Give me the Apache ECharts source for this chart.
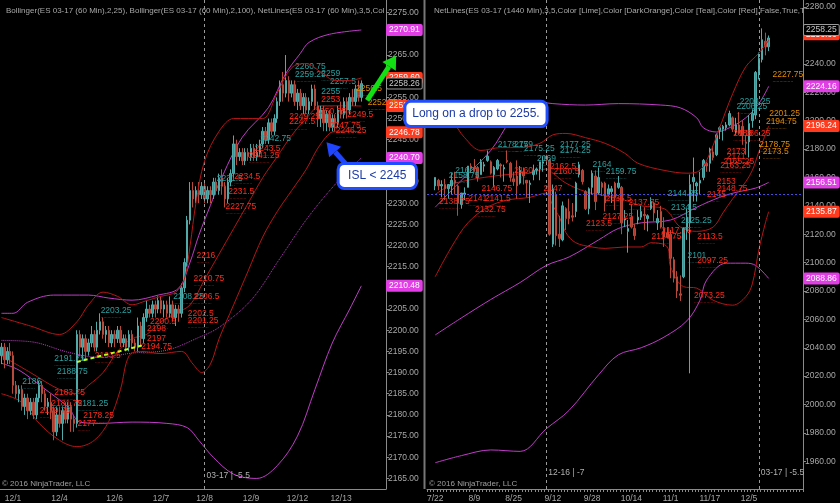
<!DOCTYPE html>
<html><head><meta charset="utf-8">
<script src="https://cdn.jsdelivr.net/npm/echarts@6/dist/echarts.min.js"></script>
<style>html,body{margin:0;padding:0;background:#000}#c{width:840px;height:503px}</style>
</head><body><div id="c"></div>
<script>
// ---------------- LEFT PANEL (60 min) ----------------
const leftTickLabels = [[4,'12/1'],[20,'12/4'],[39,'12/6'],[55,'12/7'],[70,'12/8'],[86,'12/9'],[102,'12/12'],[117,'12/13']];
// [open, close, low, high]
const leftOHLC = [
[2194,2196,2192,2197],[2196,2193,2191,2197],[2193,2195,2192,2196],[2195,2194,2192,2197],[2194,2187,2185,2195],
[2187,2185,2184,2188],[2185,2186,2183,2187],[2186,2182,2181,2187],[2182,2184,2180,2185],[2184,2181,2179,2185],
[2181,2183,2180,2184],[2183,2180,2179,2184],[2180,2184,2179,2185],[2184,2187,2183,2188],[2187,2185,2183,2188],
[2185,2182,2181,2186],[2182,2183,2180,2184],[2183,2181,2179,2185],[2181,2176,2174,2182],[2176,2180,2175,2182],
[2180,2178,2177,2182],[2178,2181,2174,2182],[2181,2179,2178,2183],[2179,2182,2178,2183],[2182,2179,2176,2183],
[2179,2178,2176,2180],[2178,2199,2177,2200],[2199,2196,2194,2200],[2196,2198,2193,2199],[2198,2195,2193,2199],
[2195,2197,2194,2198],[2197,2199,2196,2201],[2199,2196,2195,2200],[2196,2200,2195,2202],[2200,2202,2199,2204],
[2202,2199,2198,2203],[2199,2200,2197,2201],[2200,2197,2196,2201],[2197,2199,2196,2200],[2199,2198,2196,2200],
[2198,2200,2197,2201],[2200,2197,2196,2201],[2197,2198,2196,2199],[2198,2196,2195,2199],[2196,2199,2195,2200],
[2199,2197,2196,2200],[2197,2196,2195,2198],[2196,2201,2195,2203],[2201,2198,2196,2202],[2198,2203,2197,2204],
[2203,2205,2202,2207],[2205,2204,2203,2206],[2204,2206,2203,2207],[2206,2205,2203,2207],[2205,2207,2204,2208],
[2207,2205,2204,2208],[2205,2206,2203,2207],[2206,2204,2203,2207],[2204,2206,2203,2208],[2206,2203,2202,2207],
[2203,2205,2201,2206],[2205,2204,2202,2206],[2204,2210,2203,2211],[2210,2216,2209,2217],[2216,2226,2215,2227],
[2226,2233,2225,2235],[2233,2231,2229,2235],[2231,2233,2230,2234],[2233,2232,2230,2235],[2232,2234,2231,2235],
[2234,2231,2230,2235],[2231,2233,2230,2234],[2233,2232,2230,2234],[2232,2235,2231,2236],[2235,2233,2232,2236],
[2233,2236,2232,2237],[2236,2234,2232,2238],[2234,2231,2229,2235],[2231,2235,2230,2236],[2235,2237,2234,2238],
[2237,2244,2236,2246],[2244,2241,2239,2245],[2241,2242,2240,2243],[2242,2240,2239,2243],[2240,2242,2239,2243],
[2242,2241,2240,2243],[2241,2243,2240,2244],[2243,2241,2240,2244],[2241,2242,2240,2244],[2242,2244,2241,2245],
[2244,2247,2243,2248],[2247,2245,2244,2248],[2245,2249,2244,2250],[2249,2247,2246,2250],[2247,2250,2246,2251],
[2250,2254,2249,2255],[2254,2258,2253,2259],[2258,2256,2254,2261],[2256,2259,2255,2265],[2259,2256,2254,2260],
[2256,2258,2255,2259],[2258,2254,2253,2259],[2254,2256,2252,2257],[2256,2253,2252,2257],[2253,2255,2251,2256],
[2255,2252,2251,2256],[2252,2254,2251,2255],[2254,2257,2253,2258],[2257,2253,2252,2258],[2253,2250,2248,2254],
[2250,2252,2248,2253],[2252,2249,2247,2253],[2249,2251,2247,2252],[2251,2248,2247,2252],[2248,2250,2247,2251],
[2250,2249,2247,2251],[2249,2252,2248,2253],[2252,2251,2250,2254],[2251,2254,2250,2255],[2254,2252,2250,2255],
[2252,2255,2251,2256],[2255,2254,2253,2257],[2254,2257,2253,2258],[2257,2255,2254,2259],[2255,2258.25,2254,2259]
];
const leftBB25Upper = [[0,2203],[10,2201],[20,2199],[26,2202],[30,2206],[35,2209],[40,2208],[45,2206],[50,2207],[55,2208],[60,2209],[63,2212],[65,2220],[67,2230],[70,2240],[75,2247],[80,2250],[85,2250],[90,2250],[95,2256],[100,2262],[105,2263],[110,2261],[115,2259],[120,2259],[124,2259.6]];
const leftBB25Mid = [[0,2194],[10,2190],[20,2186],[26,2185],[30,2187],[35,2190],[40,2195],[45,2198],[50,2199],[55,2202],[60,2204],[65,2206],[70,2212],[75,2218],[80,2224],[85,2230],[90,2236],[95,2241],[100,2246],[105,2250],[110,2253],[115,2253],[120,2253],[124,2252.95]];
const leftBB25Lower = [[0,2185],[7,2183],[13,2178],[20,2174],[26,2172.5],[32,2174],[37,2178.5],[41,2186],[44,2194],[48,2195],[55,2194.5],[62,2195],[66,2192],[69,2190],[72,2192],[75,2198],[80,2206],[85,2214],[90,2222],[95,2228],[100,2233],[105,2238],[110,2244],[115,2247],[120,2247],[124,2246.78]];
const leftBB100Upper = [[0,2204],[4,2204],[9,2206.6],[18,2208.3],[30,2208.3],[37,2207.6],[45,2207.1],[54,2208.3],[61,2209.9],[65,2216.1],[68,2222.4],[72,2229.5],[75,2234.7],[83,2245.6],[92,2252.6],[98,2260.7],[103,2265.4],[106,2268],[113,2269.9],[124,2270.91]];
const leftBB100Mid = [[0,2197.6],[11,2197.2],[23,2194.8],[34,2193.6],[45,2194.6],[57,2195.3],[68,2198.3],[75,2200.7],[86,2207.1],[96,2217],[106,2227],[117,2236],[124,2240.7]];
const leftBB100Lower = [[0,2192.2],[6,2190.6],[14,2186.6],[23,2181.8],[27,2178.3],[34,2178],[45,2178.3],[57,2178],[64,2177],[68,2174],[73,2170],[80,2166],[88,2165],[95,2168],[102,2175],[108,2186],[114,2197],[120,2205],[124,2210.48]];
const leftTrendLine = [[26,2192.5],[49,2196.5]];
const leftLabelsTeal = [[34,2204.3,'2203.25'],[18,2192.9,'2191.75'],[19,2189.8,'2188.75'],[7,2187.5,'2186'],[26,2182.3,'2181.25'],[59,2207.5,'2208.25'],[74,2235.5,'2231.5'],[89,2245,'2242.75'],[101,2262,'2260.75'],[101,2260,'2259.25'],[110,2260.2,'2259'],[113,2258.3,'2257.5'],[110,2256,'2255']];
const leftLabelsRed = [[18,2184.9,'2183.75'],[17,2182.3,'2181.75'],[13,2180.6,'2179.75'],[28,2179.5,'2178.25'],[26,2177.6,'2177'],[32,2193.6,'2193.5'],[48,2195.7,'2194.75'],[50,2197.6,'2197'],[50,2200,'2198'],[51,2201.7,'2200.5'],[66,2207.5,'2206.5'],[64,2203.5,'2202.5'],[64,2201.9,'2201.25'],[66,2211.8,'2210.75'],[67,2217.2,'2216'],[80,2235.9,'2234.5'],[78,2232.3,'2231.5'],[77,2228.8,'2227.75'],[87,2242.5,'2243.5'],[85,2240.8,'2241.25'],[99,2248.8,'2247.5'],[99,2250.2,'2249.25'],[110,2254,'2253'],[108,2251.2,'2250.75'],[119,2250.5,'2249.5'],[113,2247.9,'2247.75'],[115,2246.7,'2246.25']];
const leftLabelsOrange = [[122,2256.6,'2256.5'],[126,2253.3,'2252.75']];
const leftTags = [[2270.91,'mag'],[2259.60,'red'],[2252.95,'red'],[2246.78,'red'],[2240.70,'mag'],[2210.48,'mag'],[2258.26,'last']];
const leftRollover = 70;

// ---------------- RIGHT PANEL (1440 min) ----------------
const rightDates = ['7/22','7/25','7/26','7/27','7/28','7/29','8/1','8/2','8/3','8/4','8/5','8/8','8/9','8/10','8/11','8/12','8/15','8/16','8/17','8/18','8/19','8/22','8/23','8/24','8/25','8/26','8/29','8/30','8/31','9/1','9/2','9/5','9/6','9/7','9/8','9/9','9/12','9/13','9/14','9/15','9/16','9/19','9/20','9/21','9/22','9/23','9/26','9/27','9/28','9/29','9/30','10/3','10/4','10/5','10/6','10/7','10/10','10/11','10/12','10/13','10/14','10/17','10/18','10/19','10/20','10/21','10/24','10/25','10/26','10/27','10/28','10/31','11/1','11/2','11/3','11/4','11/7','11/8','11/9','11/10','11/11','11/14','11/15','11/16','11/17','11/18','11/21','11/22','11/23','11/24','11/25','11/28','11/29','11/30','12/1','12/2','12/5','12/6','12/7','12/8','12/9','12/12','12/13'];
const rightTickDates = ['7/22','8/9','8/25','9/12','9/28','10/14','11/1','11/17','12/5'];
const rightOHLC = [
[2154,2160,2151,2160],[2158,2154,2151,2159],[2154,2155,2146,2158],[2155,2152,2144,2159],[2152,2155,2145,2155],
[2154,2158,2148,2163],[2158,2156,2148,2164],[2154,2142,2133,2155],[2141,2149,2138,2149],[2148,2149,2144,2153],
[2153,2168,2153,2168],[2168,2166,2163,2170],[2167,2166,2164,2173],[2167,2160,2157,2168],[2162,2171,2162,2173],
[2168,2169,2164,2171],[2172,2175,2171,2179],[2171,2163,2162,2172],[2162,2167,2153,2168],[2166,2172,2165,2173],
[2169,2168,2160,2170],[2166,2167,2157,2169],[2172,2171,2170,2179],[2170,2160,2157,2171],[2159,2157,2154,2164],
[2161,2154,2145,2172],[2156,2165,2155,2168],[2164,2161,2155,2167],[2158,2156,2146,2158],[2155,2156,2142,2158],
[2162,2165,2158,2169],[2165,2166,2162,2167],[2166,2171,2158,2171],[2170,2171,2164,2175],[2175,2173,2169,2176],
[2172,2120,2119,2173],[2113,2152,2111,2155],[2148,2119,2112,2150],[2120,2117,2111,2133],[2116,2140,2115,2143],
[2138,2131,2123,2139],[2136,2131,2127,2145],[2133,2132,2129,2142],[2136,2156,2132,2157],[2162,2169,2160,2171],
[2165,2157,2155,2166],[2150,2138,2137,2151],[2138,2152,2134,2153],[2153,2163,2148,2165],[2161,2143,2137,2165],
[2149,2160,2148,2167],[2156,2153,2147,2157],[2156,2142,2136,2157],[2148,2152,2147,2155],[2150,2152,2142,2154],
[2156,2146,2137,2157],[2153,2156,2152,2161],[2153,2128,2120,2154],[2130,2131,2125,2137],[2122,2124,2107,2130],
[2132,2125,2124,2141],[2124,2119,2116,2127],[2130,2132,2127,2137],[2132,2136,2130,2140],[2134,2133,2123,2139],
[2131,2133,2122,2134],[2138,2143,2137,2146],[2142,2135,2129,2143],[2128,2131,2123,2137],[2136,2125,2124,2140],
[2124,2118,2111,2132],[2121,2118,2117,2125],[2120,2103,2089,2123],[2102,2089,2086,2104],[2090,2080,2075,2094],
[2078,2077,2073,2091],[2090,2124,2089,2125],[2122,2132,2116,2138],[2128,2155,2022,2162],[2157,2160,2143,2174],
[2154,2156,2143,2157],[2156,2158,2148,2164],[2160,2172,2158,2173],[2170,2168,2164,2171],[2170,2180,2164,2181],
[2178,2174,2172,2182],[2176,2190,2175,2191],[2193,2195,2187,2196],[2194,2196,2186,2197],[2195,2197,2193,2199],
[2197,2205,2196,2207],[2202,2194,2192,2203],[2192,2197,2190,2202],[2197,2191,2190,2206],[2196,2190,2183,2200],
[2185,2184,2176,2190],[2185,2198,2174,2204],[2200,2205,2195,2208],[2204,2234,2201,2235],[2233,2244,2229,2248],
[2243,2257,2241,2265],[2256,2252,2246,2262],[2252,2258.25,2249,2260]
];
const rightRedUpper = [[0,2207],[5,2200],[9,2188],[14,2179],[20,2181],[26,2181],[32,2184],[36,2190],[40,2191],[46,2188],[52,2184],[58,2177],[62,2170],[70,2165],[77,2163],[81,2165],[84,2177],[87,2195],[91,2219],[95,2238],[99,2247.5],[102,2256.6]];
const rightRedMid = [[0,2148],[5,2155],[10,2158],[15,2160],[22,2162],[29,2163],[34,2166],[36,2163],[40,2156],[46,2150],[52,2147],[58,2144],[63,2140],[70,2138],[75,2125],[80,2122],[85,2125],[88,2135],[91,2145],[95,2157],[97,2165],[99,2178],[102,2196.24]];
const rightRedLower = [[0,2090],[5,2111],[10,2128],[16,2139],[22,2144],[29,2146],[34,2149],[36,2140],[38,2132],[40,2121],[43,2114],[48,2111],[52,2110],[58,2111],[63,2111],[66,2114],[71,2111],[72,2097],[76,2083],[80,2082],[85,2073.5],[91,2070],[95,2076],[97,2085],[99,2109],[101,2128],[102,2135.87]];
const rightMagUpper = [[0,2139],[8,2158],[17,2179],[23,2200],[29,2214],[36,2212],[46,2211],[56,2212],[69,2211],[75,2209],[80,2202],[82,2195],[86,2192],[90,2195],[95,2202],[99,2212],[102,2224.16]];
const rightMagMid = [[0,2049],[8,2061],[17,2074],[26,2086],[34,2098],[41,2104],[50,2116],[56,2124],[63,2128],[72,2130],[80,2139],[87,2146],[92,2149.5],[98,2152.5],[102,2156.51]];
const rightMagLower = [[0,1959],[8,1964],[17,1968],[26,1967],[34,1983],[41,1996],[50,2021],[56,2035],[63,2040],[70,2047.5],[77,2059],[81,2073.5],[83,2087.6],[89,2099.6],[95,2099.6],[98,2098],[102,2088.86]];
const rightLevel = 2148;
const rightLabelsTeal = [[6,2164,'2160'],[4,2160,'2158.75'],[19,2182,'2178.75'],[24,2182,'2179'],[27,2179,'2175.25'],[31,2172,'2169'],[38,2182,'2177.25'],[38,2178,'2174.25'],[48,2168,'2164'],[52,2163,'2159.75'],[71,2147.5,'2144.25'],[72,2138,'2134.5'],[75,2128.5,'2125.25'],[77,2104,'2101'],[93,2212,'2208.25'],[92,2208.8,'2206.25']];
const rightLabelsRed = [[1,2142,'2138.75'],[10,2144,'2141'],[15,2144,'2141.5'],[14,2151,'2146.75'],[12,2136,'2132.75'],[24,2163.7,'2160'],[33,2151,'2147'],[35,2166.5,'2162.5'],[36,2163,'2160.5'],[52,2144,'2136.5'],[51,2131,'2127.25'],[46,2126.4,'2123.5'],[59,2141,'2137.75'],[69,2121.4,'2117.75'],[66,2117,'2114.75'],[80,2117,'2113.5'],[80,2100.3,'2097.25'],[79,2075.6,'2073.25'],[86,2156,'2153'],[86,2151,'2148.75'],[83,2146.8,'2145'],[89,2177,'2173'],[89,2173.6,'2171'],[88,2170,'2165.25'],[87,2167,'2163.25'],[91,2189.8,'2188'],[93,2189.8,'2186.25']];
const rightLabelsOrange = [[103,2231.3,'2227.75'],[102,2204,'2201.25'],[101,2198.2,'2194.75'],[99,2182,'2178.75'],[100,2177,'2173.5']];
const rightTags = [[2256.60,'red',-6],[2224.16,'mag'],[2196.24,'red'],[2156.51,'mag'],[2135.87,'red'],[2088.86,'mag'],[2258.25,'last',-8]];
const rightRollovers = [[34,'12-16 | -7'],[99,'03-17 | -5.5']];

// ---------------- build ----------------
const FONT = 'Liberation Sans, Arial, sans-serif';
const C = {teal:'#2e9c9c', tealText:'#2aa0a0', red:'#b8362a', redText:'#ff2a1a', orange:'#e08a00',
  bb25:'#b41616', bb100:'#c03cc8', axis:'#8a8a8a', text:'#a8a8a8', mag:'#e23ee6', tagRed:'#ff3b1f'};
const TRANSPARENT = 'rgba(0,0,0,0)';
const RPAD = 2, RTAIL = 10, LCOUNT = 133;
const leftCats = []; for (let i = 0; i < LCOUNT; i++) leftCats.push('L' + i);
const rightCats = [];
for (let i = 0; i < RPAD; i++) rightCats.push('p' + i);
rightDates.forEach(d => rightCats.push(d));
for (let i = 0; i < RTAIL; i++) rightCats.push('t' + i);
const leftTickMap = {}; leftTickLabels.forEach(([i, t]) => leftTickMap[i] = t);
const shiftR = arr => arr.map(p => [p[0] + RPAD].concat(p.slice(1)));
const rightOHLCPadded = [];
for (let i = 0; i < RPAD; i++) rightOHLCPadded.push('-');
rightOHLC.forEach(d => rightOHLCPadded.push(d));

function lineSeries(data, color, xi, type, width) {
  return {type:'line', xAxisIndex:xi, yAxisIndex:xi, data, smooth:0.35, symbol:'none', silent:true,
    lineStyle:{color, width: width || 1, type: type || 'solid'}, z:3};
}
function labelSeries(data, color, xi) {
  return {type:'scatter', xAxisIndex:xi, yAxisIndex:xi, data, symbolSize:1, silent:true,
    itemStyle:{color:TRANSPARENT}, z:5,
    label:{show:true, position:'right', distance:0, opacity:1, formatter: p => {
      const t = p.value[2]; return '{t|' + t + '}\n{d|' + '.'.repeat(Math.round(t.length * 2.2)) + '}';},
      rich:{t:{fontSize:8.5, color, fontFamily:FONT, lineHeight:9}, d:{fontSize:5, color, lineHeight:3}}}};
}
function tagLines(tags) {
  return tags.map(([v, kind, dy]) => {
    const bg = kind === 'mag' ? C.mag : kind === 'red' ? C.tagRed : '#000';
    return {yAxis: v, lineStyle:{color:TRANSPARENT, width:0}, label:{show:true, position:'end', distance:1, opacity:1,
      offset:[0, dy || 0], formatter: v.toFixed(2),
      backgroundColor: bg, color: kind === 'last' ? '#c8c8c8' : '#fff', borderColor: kind === 'last' ? '#9a9a9a' : bg,
      borderWidth: 1, padding:[1,2,0,2], fontSize:8.5, fontFamily:FONT, borderRadius:1}};
  });
}
function withTags(series, tags) {
  series.markLine = {silent:true, symbol:['none','none'], animation:false, data:tagLines(tags)};
  series.z = 7;
  return series;
}
const candleStyle = {color:C.teal, color0:C.red, borderColor:'#52aaaa', borderColor0:'#b84a3c', borderWidth:1};
const yAxisCommon = {type:'value', position:'right', scale:true,
  axisLine:{show:true, lineStyle:{color:C.axis}}, axisTick:{show:true, length:3, lineStyle:{color:C.axis}},
  splitLine:{show:false},
  axisLabel:{color:C.text, fontSize:8.5, fontFamily:FONT, margin:2, showMinLabel:false, showMaxLabel:false,
    formatter: v => v.toFixed(2)}};

const option = {
  backgroundColor:'#000', animation:false,
  textStyle:{fontFamily:FONT},
  title:[
    {text:'Bollinger(ES 03-17 (60 Min),2,25), Bollinger(ES 03-17 (60 Min),2,100), NetLines(ES 03-17 (60 Min),3,5,Color [Lime],Color [DarkOrange],Color [Teal],Color [Red],False,True,True)',
     left:1, top:2, textStyle:{color:'#a8a8a8', fontSize:8, fontWeight:'normal', fontFamily:FONT, width:382, overflow:'truncate', ellipsis:''}},
    {text:'NetLines(ES 03-17 (1440 Min),3,5,Color [Lime],Color [DarkOrange],Color [Teal],Color [Red],False,True,True), Bollinger(ES 03-17 (1440 Min),2,25), Bollinger(ES 03-17 (1440 Min),2,100)',
     left:429, top:2, textStyle:{color:'#a8a8a8', fontSize:8, fontWeight:'normal', fontFamily:FONT, width:372, overflow:'truncate', ellipsis:''}}
  ],
  grid:[
    {left:0, top:0, width:386, height:489, outerBoundsMode:'none'},
    {left:427, top:0, width:376, height:489, outerBoundsMode:'none'}
  ],
  xAxis:[
    {type:'category', gridIndex:0, data:leftCats, boundaryGap:true,
     axisLine:{lineStyle:{color:C.axis}}, axisTick:{show:false},
     axisLabel:{interval:0, color:C.text, fontSize:8.5, fontFamily:FONT, margin:5, formatter:(v, i) => leftTickMap[i] || ''}},
    {type:'category', gridIndex:1, data:rightCats, boundaryGap:true,
     axisLine:{lineStyle:{color:C.axis}}, axisTick:{show:true, interval:0, length:3, lineStyle:{color:C.axis}},
     axisLabel:{interval:0, color:C.text, fontSize:8.5, fontFamily:FONT, margin:5, formatter:(v) => rightTickDates.indexOf(v) >= 0 ? v : ''}}
  ],
  yAxis:[
    Object.assign({}, yAxisCommon, {gridIndex:0, min:2162.5, max:2278, splitNumber:23, minInterval:5, maxInterval:5}),
    Object.assign({}, yAxisCommon, {gridIndex:1, min:1940.5, max:2285, splitNumber:17, minInterval:20, maxInterval:20})
  ],
  series:[
    // left
    lineSeries(leftBB100Upper, C.bb100, 0),
    lineSeries(leftBB100Mid, C.bb100, 0, 'dotted'),
    lineSeries(leftBB100Lower, C.bb100, 0),
    withTags(lineSeries(leftBB25Upper, C.bb25, 0), leftTags),
    lineSeries(leftBB25Mid, C.bb25, 0),
    lineSeries(leftBB25Lower, C.bb25, 0),
    {type:'candlestick', xAxisIndex:0, yAxisIndex:0, data:leftOHLC, barWidth:2, itemStyle:candleStyle, silent:true, z:4,
     markLine:{silent:true, symbol:['none','none'], animation:false, label:{show:false},
       lineStyle:{color:'#9a9a9a', type:[3,3], width:1}, data:[{xAxis:leftRollover}]}},
    Object.assign(lineSeries(leftTrendLine, '#b6ff1a', 0, [4,3], 2), {smooth:false, z:6}),
    labelSeries(leftLabelsTeal, C.tealText, 0),
    labelSeries(leftLabelsRed, C.redText, 0),
    labelSeries(leftLabelsOrange, C.orange, 0),
    // right
    lineSeries(shiftR(rightMagUpper), C.bb100, 1),
    lineSeries(shiftR(rightMagMid), C.bb100, 1),
    lineSeries(shiftR(rightMagLower), C.bb100, 1),
    withTags(lineSeries(shiftR(rightRedUpper), C.bb25, 1), rightTags),
    lineSeries(shiftR(rightRedMid), C.bb25, 1),
    lineSeries(shiftR(rightRedLower), C.bb25, 1),
    {type:'candlestick', xAxisIndex:1, yAxisIndex:1, data:rightOHLCPadded, barWidth:2, itemStyle:candleStyle, silent:true, z:4,
     markLine:{silent:true, symbol:['none','none'], animation:false, label:{show:false},
       data:[
         ...rightRollovers.map(r => ({xAxis: r[0] + RPAD, lineStyle:{color:'#9a9a9a', type:[3,3], width:1}})),
         {yAxis: rightLevel, lineStyle:{color:'#4a4ae0', type:[2,2], width:1}}
       ]}},
    labelSeries(shiftR(rightLabelsTeal), C.tealText, 1),
    labelSeries(shiftR(rightLabelsRed), C.redText, 1),
    labelSeries(shiftR(rightLabelsOrange), C.orange, 1)
  ]
};
const chart = echarts.init(document.getElementById('c'), null, {renderer:'canvas'});
chart.setOption(option);

// ---------------- annotations (anchored in data space) ----------------
const annotLong = {text:'Long on a drop to 2255.', from:[139.1,2254.1], to:[188.3,2248.1]};
const annotISL = {text:'ISL < 2245', from:[116,2239.4], to:[142.8,2233.5]};
const arrowGreen = {tail:[126,2254.3], tip:[136,2264.9]};
const arrowBlue = {tail:[119.4,2239], tip:[111.8,2244.4]};

const L = (k, v) => chart.convertToPixel({xAxisIndex:0, yAxisIndex:0}, [k, v]);
const R = (k, v) => chart.convertToPixel({xAxisIndex:1, yAxisIndex:1}, [k + RPAD, v]);
function arrow(a, b, color, w) {
  const dx = b[0]-a[0], dy = b[1]-a[1], len = Math.hypot(dx, dy), ux = dx/len, uy = dy/len;
  const hl = 13, hw = 8, base = [b[0]-ux*hl, b[1]-uy*hl];
  return [
    {type:'line', z:100, shape:{x1:a[0], y1:a[1], x2:base[0], y2:base[1]}, style:{stroke:color, lineWidth:w}},
    {type:'polygon', z:100, shape:{points:[b, [base[0]-uy*hw, base[1]+ux*hw], [base[0]+uy*hw, base[1]-ux*hw]]}, style:{fill:color}}
  ];
}
function callout(a) {
  const p1 = L(a.from[0], a.from[1]), p2 = L(a.to[0], a.to[1]);
  return [
    {type:'rect', z:100, shape:{x:p1[0], y:p1[1], width:p2[0]-p1[0], height:p2[1]-p1[1], r:6},
     style:{fill:'#ffffff', stroke:'#1f4dff', lineWidth:3}},
    {type:'text', z:101, x:(p1[0]+p2[0])/2, y:(p1[1]+p2[1])/2,
     style:{text:a.text, fill:'#1c3aa6', font:'12px ' + FONT, textAlign:'center', textVerticalAlign:'middle'}}
  ];
}
const gridBottom = L(0, 2162.5)[1];
const g = [];
g.push({type:'line', z:50, shape:{x1:424.5, y1:0, x2:424.5, y2:gridBottom}, style:{stroke:'#777', lineWidth:2}});
g.push(...arrow(L(...arrowGreen.tail), L(...arrowGreen.tip), '#12e012', 5));
g.push(...arrow(L(...arrowBlue.tail), L(...arrowBlue.tip), '#1f45ff', 5));
g.push(...callout(annotLong));
g.push(...callout(annotISL));
const lx = L(leftRollover, 2200)[0];
g.push({type:'text', z:60, x:lx + 2, y:gridBottom - 13, style:{text:'03-17 | -5.5', fill:'#b0b0b0', font:'8.5px ' + FONT, textVerticalAlign:'middle'}});
rightRollovers.forEach(r => {
  const x = R(r[0], 2000)[0];
  g.push({type:'text', z:60, x:x + 2, y:gridBottom - 16, style:{text:r[1], fill:'#b0b0b0', font:'8.5px ' + FONT, textVerticalAlign:'middle'}});
});
g.push({type:'text', z:60, x:2, y:gridBottom - 5, style:{text:'© 2016 NinjaTrader, LLC', fill:'#a0a0a0', font:'8px ' + FONT, textVerticalAlign:'middle'}});
g.push({type:'text', z:60, x:429, y:gridBottom - 5, style:{text:'© 2016 NinjaTrader, LLC', fill:'#a0a0a0', font:'8px ' + FONT, textVerticalAlign:'middle'}});
chart.setOption({graphic:g});
</script>
</body></html>
